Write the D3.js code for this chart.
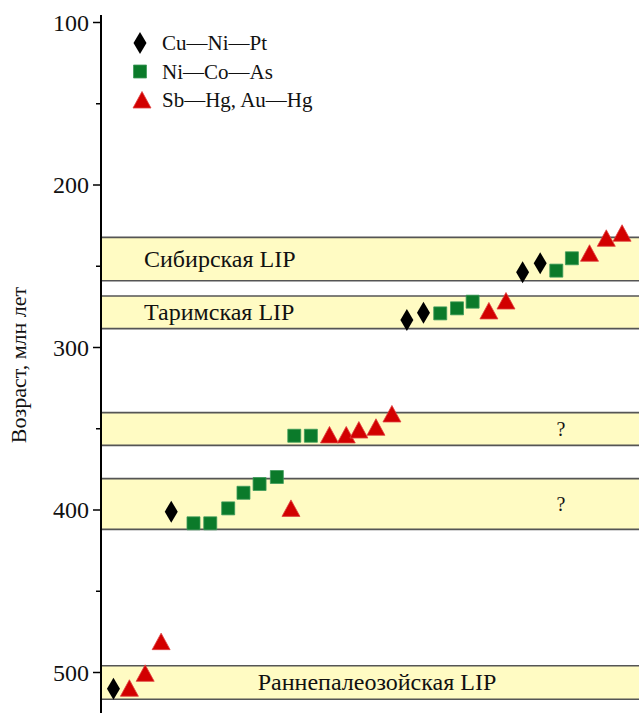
<!DOCTYPE html>
<html>
<head>
<meta charset="utf-8">
<script src="https://d3js.org/d3.v7.min.js"></script>
<style>
  body { margin: 0; background: #fff; }
  text { font-family: "Liberation Serif", "DejaVu Serif", serif; fill: #111; }
</style>
</head>
<body>
<svg id="chart" width="639" height="713"></svg>
<script>
// series: x = order along the plot (arbitrary units), y = age, Ma
const cuNiPt = [
  {x: 0, y: 510}, {x: 3.48, y: 401}, {x: 17.67, y: 283}, {x: 18.67, y: 278.6},
  {x: 24.64, y: 253.7}, {x: 25.7, y: 248.2}
];
const niCoAs = [
  {x: 4.82, y: 408.2}, {x: 5.83, y: 408.2}, {x: 6.91, y: 399}, {x: 7.83, y: 389.4},
  {x: 8.8, y: 384}, {x: 9.84, y: 379.7}, {x: 10.89, y: 354.3}, {x: 11.89, y: 354.3},
  {x: 19.68, y: 279}, {x: 20.69, y: 275.9}, {x: 21.63, y: 271.8},
  {x: 26.67, y: 252.7}, {x: 27.61, y: 245.1}
];
const sbHgAuHg = [
  {x: 0.96, y: 509.7}, {x: 1.91, y: 500.5}, {x: 2.87, y: 481}, {x: 10.69, y: 399},
  {x: 13.01, y: 353.8}, {x: 14.02, y: 353.8}, {x: 14.78, y: 350.8}, {x: 15.81, y: 349.1},
  {x: 16.77, y: 340.9}, {x: 22.61, y: 277.5}, {x: 23.64, y: 271.4},
  {x: 28.67, y: 242}, {x: 29.68, y: 232.8}, {x: 30.63, y: 229.7}
];
// LIP bands (age ranges)
const bands = [
  {from: 232.2, to: 258.9, label: "Сибирская LIP", pos: "left"},
  {from: 268.3, to: 288.4, label: "Таримская LIP", pos: "left"},
  {from: 340.1, to: 360.2, label: "?", pos: "right"},
  {from: 380.7, to: 411.9, label: "?", pos: "right"},
  {from: 495.8, to: 516.5, label: "Раннепалеозойская LIP", pos: "center"}
];
const majorTicks = [100, 200, 300, 400, 500];
const minorTicks = [150, 250, 350, 450];
const legendItems = ["Cu—Ni—Pt", "Ni—Co—As", "Sb—Hg, Au—Hg"];
const axisTitle = "Возраст, млн лет";

const svg = d3.select("#chart");
const W = 639, H = 713, x0 = 101;

const y = d3.scaleLinear().domain([100, 500]).range([22.5, 672.5]);
const x = d3.scaleLinear().domain([-0.75, 31.65]).range([x0, W]);

// bands
const bg = svg.append("g");
bg.selectAll("rect").data(bands).join("rect")
  .attr("x", x0).attr("width", W - x0)
  .attr("y", d => y(d.from)).attr("height", d => y(d.to) - y(d.from))
  .attr("fill", "#fffbc3");
bg.selectAll("line.top").data(bands).join("line").attr("class", "top")
  .attr("x1", x0).attr("x2", W)
  .attr("y1", d => y(d.from)).attr("y2", d => y(d.from))
  .attr("stroke", "#555").attr("stroke-width", 1.6);
bg.selectAll("line.bot").data(bands).join("line").attr("class", "bot")
  .attr("x1", x0).attr("x2", W)
  .attr("y1", d => y(d.to)).attr("y2", d => y(d.to))
  .attr("stroke", "#555").attr("stroke-width", 1.6);
bg.selectAll("text").data(bands).join("text")
  .attr("x", d => d.pos === "left" ? 144 : d.pos === "right" ? 561 : 377)
  .attr("y", d => (y(d.from) + y(d.to)) / 2 + 7.5)
  .attr("text-anchor", d => d.pos === "left" ? "start" : "middle")
  .attr("font-size", d => d.pos === "right" ? 20 : 24)
  .text(d => d.label);

// axis
const axis = svg.append("g");
axis.append("line").attr("x1", x0).attr("x2", x0).attr("y1", 15).attr("y2", H)
  .attr("stroke", "#000").attr("stroke-width", 2);
axis.selectAll("line.maj").data(majorTicks).join("line").attr("class", "maj")
  .attr("x1", x0 - 8).attr("x2", x0).attr("y1", d => y(d)).attr("y2", d => y(d))
  .attr("stroke", "#000").attr("stroke-width", 1.5);
axis.selectAll("line.min").data(minorTicks).join("line").attr("class", "min")
  .attr("x1", x0 - 5).attr("x2", x0).attr("y1", d => y(d)).attr("y2", d => y(d))
  .attr("stroke", "#000").attr("stroke-width", 1.5);
axis.selectAll("text").data(majorTicks).join("text")
  .attr("x", x0 - 12).attr("y", d => y(d) + 8)
  .attr("text-anchor", "end").attr("font-size", 24)
  .text(d => d);
svg.append("text")
  .attr("transform", "translate(26,365) rotate(-90)")
  .attr("text-anchor", "middle").attr("font-size", 22)
  .text(axisTitle);

// marker shapes
const diamond = "M0,-11 L6.5,0 L0,11 L-6.5,0 Z";
const square = "M-6.5,-6.5 H6.5 V6.5 H-6.5 Z";
const triangle = "M0,-8.5 L9,8 L-9,8 Z";
const series = [
  {data: cuNiPt, path: diamond, fill: "#000", stroke: "none"},
  {data: niCoAs, path: square, fill: "#0b7a2a", stroke: "#3f9a5a"},
  {data: sbHgAuHg, path: triangle, fill: "#d20000", stroke: "#e04040"}
];

const marks = svg.append("g");
series.forEach(s => {
  marks.append("g").selectAll("path").data(s.data).join("path")
    .attr("d", s.path)
    .attr("fill", s.fill).attr("stroke", s.stroke).attr("stroke-width", 0.8)
    .attr("transform", d => `translate(${x(d.x)},${y(d.y)})`);
});

// legend
const lg = svg.append("g");
legendItems.forEach((name, i) => {
  const cy = 43 + i * 28.5;
  lg.append("path").attr("d", series[i].path)
    .attr("fill", series[i].fill).attr("stroke", series[i].stroke).attr("stroke-width", 0.8)
    .attr("transform", `translate(${i === 2 ? 142 : 140},${cy})`);
  lg.append("text").attr("x", 162).attr("y", cy + 7).attr("font-size", 21).text(name);
});
</script>
</body>
</html>
